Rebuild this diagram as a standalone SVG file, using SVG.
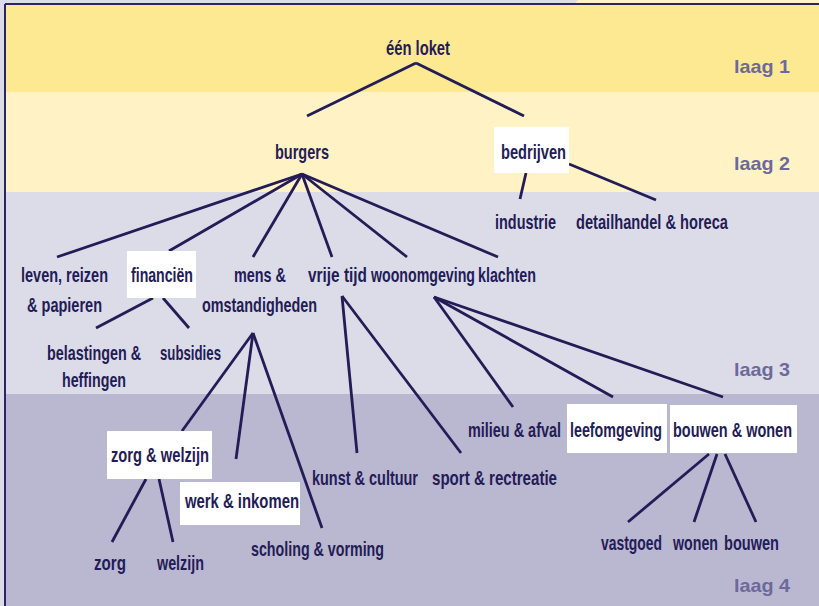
<svg xmlns="http://www.w3.org/2000/svg" width="819" height="606" viewBox="0 0 819 606">
<style>
.t{font-family:"Liberation Sans",Arial,sans-serif;font-weight:bold;font-size:21px;fill:#231c57}
.lg{font-family:"Liberation Sans",Arial,sans-serif;font-weight:bold;font-size:19px;fill:#6c699c}
.box{fill:#ffffff}
.c line{stroke:#231c57;stroke-width:2.8;stroke-linecap:butt}
</style>
<g id="background">
<rect x="0" y="0" width="819" height="606" fill="#dcdbe8"/>
<polygon points="578,0 819,0 819,4 574,4" fill="#fef3c6"/>
<rect x="5" y="4" width="814" height="88" fill="#fee993"/>
<rect x="5" y="92" width="814" height="100" fill="#fff3c6"/>
<rect x="5" y="192" width="814" height="202" fill="#dcdbe8"/>
<rect x="5" y="394" width="814" height="212" fill="#bab7d1"/>
<line x1="5" y1="4" x2="819" y2="4" stroke="#2a2563" stroke-width="2"/>
<line x1="5" y1="4" x2="5" y2="606" stroke="#2a2563" stroke-width="2"/>
</g>
<g id="layer-labels">
<text class="lg" x="734" y="73" textLength="56" lengthAdjust="spacingAndGlyphs">laag 1</text>
<text class="lg" x="734" y="170" textLength="56" lengthAdjust="spacingAndGlyphs">laag 2</text>
<text class="lg" x="734" y="376" textLength="56" lengthAdjust="spacingAndGlyphs">laag 3</text>
<text class="lg" x="734" y="592" textLength="56" lengthAdjust="spacingAndGlyphs">laag 4</text>
</g>
<g id="connectors" class="c">
<line x1="416" y1="63" x2="307" y2="116"/>
<line x1="416" y1="63" x2="524" y2="116"/>
<line x1="526" y1="173" x2="520" y2="199"/>
<line x1="569" y1="164" x2="656" y2="200"/>
<line x1="302" y1="174" x2="57" y2="257"/>
<line x1="302" y1="174" x2="169" y2="251"/>
<line x1="302" y1="174" x2="253" y2="257"/>
<line x1="302" y1="174" x2="332" y2="257"/>
<line x1="302" y1="174" x2="407" y2="257"/>
<line x1="302" y1="174" x2="498" y2="257"/>
<line x1="153" y1="298" x2="96" y2="328"/>
<line x1="163" y1="298" x2="189" y2="328"/>
<line x1="253" y1="333" x2="182" y2="431"/>
<line x1="253" y1="333" x2="236" y2="459"/>
<line x1="253" y1="333" x2="322" y2="528"/>
<line x1="342" y1="296" x2="357" y2="453"/>
<line x1="342" y1="296" x2="461" y2="453"/>
<line x1="434" y1="297" x2="513" y2="407"/>
<line x1="434" y1="297" x2="613" y2="397"/>
<line x1="434" y1="297" x2="723" y2="397"/>
<line x1="146" y1="479" x2="112" y2="542"/>
<line x1="159" y1="479" x2="173" y2="542"/>
<line x1="709" y1="454" x2="628" y2="522"/>
<line x1="717" y1="454" x2="694" y2="522"/>
<line x1="725" y1="454" x2="756" y2="522"/>
</g>
<g id="een-loket"><text class="t" x="386" y="55" textLength="64" lengthAdjust="spacingAndGlyphs">één loket</text></g>
<g id="burgers"><text class="t" x="275" y="159" textLength="54" lengthAdjust="spacingAndGlyphs">burgers</text></g>
<g id="bedrijven"><rect class="box" x="494" y="127" width="75" height="46"/><text class="t" x="501" y="159" textLength="65" lengthAdjust="spacingAndGlyphs">bedrijven</text></g>
<g id="industrie"><text class="t" x="495" y="229" textLength="61" lengthAdjust="spacingAndGlyphs">industrie</text></g>
<g id="detailhandel"><text class="t" x="576" y="229" textLength="152" lengthAdjust="spacingAndGlyphs">detailhandel &amp; horeca</text></g>
<g id="leven"><text class="t" x="21" y="282" textLength="87" lengthAdjust="spacingAndGlyphs">leven, reizen</text><text class="t" x="27" y="312" textLength="75" lengthAdjust="spacingAndGlyphs">&amp; papieren</text></g>
<g id="financien"><rect class="box" x="127" y="251" width="69" height="47"/><text class="t" x="131" y="282" textLength="62" lengthAdjust="spacingAndGlyphs">financiën</text></g>
<g id="mens"><text class="t" x="234" y="282" textLength="52" lengthAdjust="spacingAndGlyphs">mens &amp;</text><text class="t" x="202" y="312" textLength="115" lengthAdjust="spacingAndGlyphs">omstandigheden</text></g>
<g id="vrije-tijd"><text class="t" x="308" y="282" textLength="59" lengthAdjust="spacingAndGlyphs">vrije tijd</text></g>
<g id="woonomgeving"><text class="t" x="371" y="282" textLength="104" lengthAdjust="spacingAndGlyphs">woonomgeving</text></g>
<g id="klachten"><text class="t" x="478" y="282" textLength="58" lengthAdjust="spacingAndGlyphs">klachten</text></g>
<g id="belastingen"><text class="t" x="47" y="360" textLength="94" lengthAdjust="spacingAndGlyphs">belastingen &amp;</text><text class="t" x="62" y="387" textLength="64" lengthAdjust="spacingAndGlyphs">heffingen</text></g>
<g id="subsidies"><text class="t" x="160" y="360" textLength="61" lengthAdjust="spacingAndGlyphs">subsidies</text></g>
<g id="zorg-welzijn"><rect class="box" x="107" y="431" width="105" height="48"/><text class="t" x="111" y="462" textLength="98" lengthAdjust="spacingAndGlyphs">zorg &amp; welzijn</text></g>
<g id="werk-inkomen"><rect class="box" x="180" y="482" width="120" height="43"/><text class="t" x="185" y="508" textLength="114" lengthAdjust="spacingAndGlyphs">werk &amp; inkomen</text></g>
<g id="scholing"><text class="t" x="251" y="556" textLength="133" lengthAdjust="spacingAndGlyphs">scholing &amp; vorming</text></g>
<g id="kunst"><text class="t" x="312" y="485" textLength="106" lengthAdjust="spacingAndGlyphs">kunst &amp; cultuur</text></g>
<g id="sport"><text class="t" x="432" y="485" textLength="125" lengthAdjust="spacingAndGlyphs">sport &amp; rectreatie</text></g>
<g id="milieu"><text class="t" x="468" y="437" textLength="93" lengthAdjust="spacingAndGlyphs">milieu &amp; afval</text></g>
<g id="leefomgeving"><rect class="box" x="567" y="404" width="100" height="49"/><text class="t" x="570" y="437" textLength="92" lengthAdjust="spacingAndGlyphs">leefomgeving</text></g>
<g id="bouwen-wonen"><rect class="box" x="670" y="405" width="127" height="48"/><text class="t" x="673" y="437" textLength="119" lengthAdjust="spacingAndGlyphs">bouwen &amp; wonen</text></g>
<g id="vastgoed"><text class="t" x="601" y="550" textLength="61" lengthAdjust="spacingAndGlyphs">vastgoed</text></g>
<g id="wonen"><text class="t" x="673" y="550" textLength="45" lengthAdjust="spacingAndGlyphs">wonen</text></g>
<g id="bouwen"><text class="t" x="724" y="550" textLength="55" lengthAdjust="spacingAndGlyphs">bouwen</text></g>
<g id="zorg"><text class="t" x="94" y="570" textLength="32" lengthAdjust="spacingAndGlyphs">zorg</text></g>
<g id="welzijn"><text class="t" x="157" y="570" textLength="47" lengthAdjust="spacingAndGlyphs">welzijn</text></g>
</svg>
